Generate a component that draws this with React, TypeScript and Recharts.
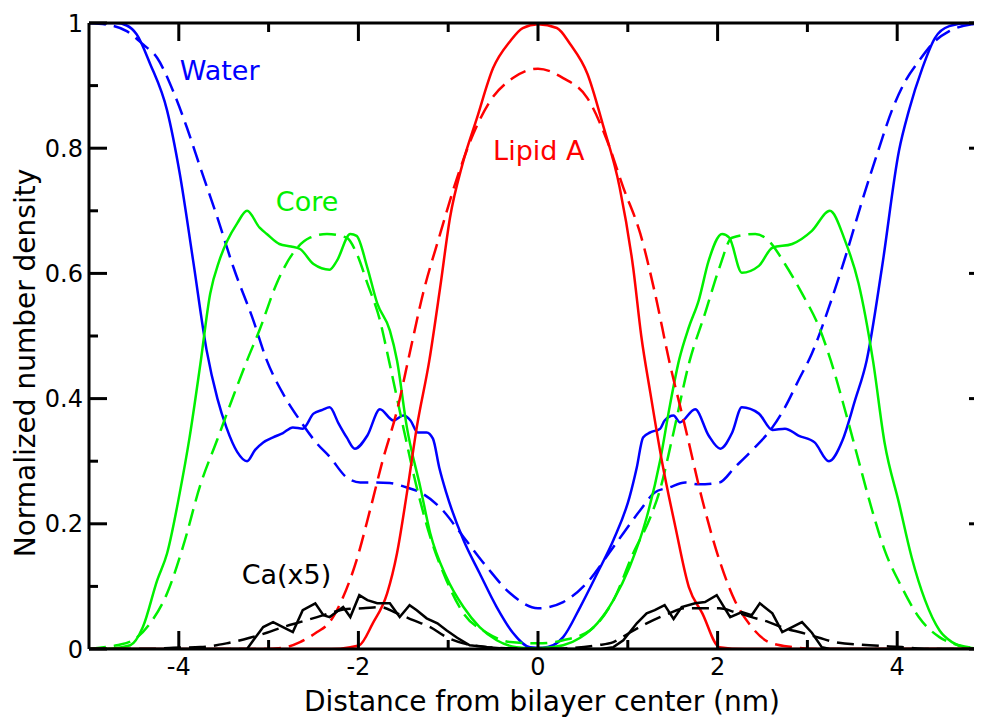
import { LineChart, Line, XAxis, YAxis, ReferenceDot } from "recharts";

// distance (nm) vs normalized number density
const waterSolid: [number, number][] = [
  [-5, 1.0], [-4.7, 1.0], [-4.58, 0.996], [-4.47, 0.982], [-4.32, 0.935], [-4.13, 0.86],
  [-3.99, 0.76], [-3.84, 0.62], [-3.69, 0.477], [-3.57, 0.4], [-3.47, 0.354], [-3.35, 0.315],
  [-3.24, 0.3], [-3.15, 0.318], [-3.06, 0.33], [-2.95, 0.338], [-2.84, 0.345], [-2.73, 0.354],
  [-2.62, 0.352], [-2.5, 0.376], [-2.4, 0.382], [-2.32, 0.386], [-2.22, 0.36], [-2.13, 0.338],
  [-2.04, 0.32], [-1.9, 0.341], [-1.76, 0.383], [-1.61, 0.365], [-1.5, 0.373], [-1.42, 0.365],
  [-1.34, 0.346], [-1.24, 0.346], [-1.17, 0.336], [-1.1, 0.29], [-1.02, 0.249], [-0.83, 0.174],
  [-0.65, 0.121], [-0.46, 0.067], [-0.28, 0.026], [-0.09, 0.003], [0.05, 0.002], [0.17, 0.006],
  [0.28, 0.019], [0.47, 0.067], [0.66, 0.121], [0.84, 0.174], [1.02, 0.243], [1.1, 0.29],
  [1.17, 0.338], [1.25, 0.346], [1.36, 0.352], [1.41, 0.365], [1.51, 0.373], [1.58, 0.362],
  [1.75, 0.383], [1.9, 0.341], [2.03, 0.32], [2.16, 0.345], [2.27, 0.386], [2.46, 0.376],
  [2.61, 0.35], [2.75, 0.352], [2.9, 0.341], [3.08, 0.33], [3.24, 0.3], [3.39, 0.333],
  [3.53, 0.397], [3.66, 0.461], [3.83, 0.609], [4.02, 0.796], [4.13, 0.86], [4.28, 0.928],
  [4.42, 0.976], [4.58, 0.995], [4.8, 1.0], [5, 1.0],
];

const waterDashed: [number, number][] = [
  [-5, 1.0], [-4.75, 0.996], [-4.58, 0.987], [-4.4, 0.966], [-4.24, 0.944], [-4.06, 0.89],
  [-3.91, 0.833], [-3.76, 0.769], [-3.57, 0.689], [-3.39, 0.609], [-3.17, 0.525], [-3.02, 0.461],
  [-2.84, 0.408], [-2.65, 0.365], [-2.46, 0.328], [-2.32, 0.307], [-2.13, 0.274], [-1.98, 0.266],
  [-1.84, 0.266], [-1.65, 0.265], [-1.46, 0.258], [-1.31, 0.25], [-1.09, 0.226], [-0.83, 0.179],
  [-0.57, 0.131], [-0.31, 0.089], [0, 0.065], [0.28, 0.075], [0.54, 0.105], [0.84, 0.163],
  [1.14, 0.222], [1.3, 0.25], [1.46, 0.258], [1.64, 0.266], [1.79, 0.263], [2.02, 0.266],
  [2.19, 0.29], [2.38, 0.317], [2.61, 0.354], [2.75, 0.386], [2.9, 0.429], [3.05, 0.472],
  [3.24, 0.546], [3.42, 0.625], [3.61, 0.716], [3.8, 0.801], [3.94, 0.86], [4.09, 0.907],
  [4.24, 0.939], [4.42, 0.971], [4.58, 0.987], [4.83, 0.998], [5, 1.0],
];

const coreSolid: [number, number][] = [
  [-5, 0], [-4.75, 0.001], [-4.54, 0.006], [-4.4, 0.035], [-4.24, 0.11], [-4.13, 0.153],
  [-3.99, 0.249], [-3.88, 0.338], [-3.76, 0.455], [-3.65, 0.568], [-3.55, 0.62], [-3.46, 0.652],
  [-3.35, 0.68], [-3.24, 0.7], [-3.1, 0.673], [-3.02, 0.663], [-2.88, 0.647], [-2.75, 0.643],
  [-2.65, 0.639], [-2.5, 0.615], [-2.32, 0.606], [-2.24, 0.62], [-2.09, 0.663], [-2.02, 0.66],
  [-1.9, 0.609], [-1.79, 0.552], [-1.65, 0.509], [-1.57, 0.461], [-1.46, 0.354], [-1.31, 0.258],
  [-1.2, 0.185], [-1.02, 0.115], [-0.83, 0.067], [-0.65, 0.035], [-0.46, 0.014], [-0.24, 0.003],
  [0, 0.001], [0.28, 0.006], [0.47, 0.018], [0.66, 0.041], [0.84, 0.078], [1.02, 0.131],
  [1.21, 0.21], [1.36, 0.301], [1.47, 0.39], [1.57, 0.461], [1.68, 0.514], [1.79, 0.557],
  [1.9, 0.62], [2.05, 0.663], [2.13, 0.657], [2.27, 0.601], [2.46, 0.612], [2.61, 0.641],
  [2.83, 0.647], [3.05, 0.668], [3.25, 0.7], [3.42, 0.652], [3.57, 0.584], [3.73, 0.461],
  [3.86, 0.329], [4.02, 0.233], [4.16, 0.147], [4.31, 0.078], [4.47, 0.03], [4.61, 0.011],
  [4.75, 0.003], [5, 0],
];

const coreDashed: [number, number][] = [
  [-5, 0], [-4.88, 0.002], [-4.69, 0.006], [-4.51, 0.014], [-4.32, 0.041], [-4.13, 0.089],
  [-3.95, 0.165], [-3.76, 0.262], [-3.57, 0.335], [-3.39, 0.405], [-3.24, 0.461], [-3.1, 0.51],
  [-2.91, 0.584], [-2.73, 0.632], [-2.54, 0.657], [-2.35, 0.663], [-2.13, 0.657], [-2.02, 0.632],
  [-1.9, 0.584], [-1.76, 0.525], [-1.66, 0.461], [-1.5, 0.354], [-1.35, 0.258], [-1.2, 0.179],
  [-1.02, 0.11], [-0.83, 0.057], [-0.57, 0.026], [-0.31, 0.011], [0, 0.009], [0.28, 0.014],
  [0.58, 0.03], [0.84, 0.078], [1.06, 0.153], [1.25, 0.21], [1.36, 0.255], [1.5, 0.34],
  [1.69, 0.461], [1.86, 0.536], [2.02, 0.609], [2.16, 0.657], [2.42, 0.663], [2.57, 0.652],
  [2.75, 0.615], [2.94, 0.568], [3.13, 0.514], [3.26, 0.461], [3.42, 0.381], [3.57, 0.301],
  [3.72, 0.222], [3.86, 0.158], [4.05, 0.099], [4.24, 0.051], [4.47, 0.019], [4.69, 0.006],
  [5, 0],
];

const lipidSolid: [number, number][] = [
  [-5, 0], [-2.3, 0], [-2.09, 0.003], [-1.99, 0.006], [-1.84, 0.041], [-1.68, 0.089],
  [-1.57, 0.153], [-1.46, 0.249], [-1.35, 0.354], [-1.21, 0.461], [-1.09, 0.577], [-0.98, 0.689],
  [-0.84, 0.775], [-0.68, 0.848], [-0.5, 0.928], [-0.31, 0.971], [-0.17, 0.992], [0, 0.998],
  [0.21, 0.992], [0.36, 0.966], [0.55, 0.919], [0.72, 0.839], [0.91, 0.737], [1.06, 0.609],
  [1.15, 0.5], [1.25, 0.41], [1.38, 0.3], [1.53, 0.195], [1.68, 0.099], [1.83, 0.057],
  [2.02, 0.003], [2.3, 0], [5, 0],
];

const lipidDashed: [number, number][] = [
  [-5, 0], [-3.1, 0], [-2.84, 0.002], [-2.65, 0.011], [-2.46, 0.027], [-2.32, 0.043],
  [-2.17, 0.083], [-2.02, 0.142], [-1.87, 0.222], [-1.73, 0.301], [-1.57, 0.381], [-1.44, 0.465],
  [-1.28, 0.568], [-1.09, 0.663], [-0.9, 0.753], [-0.72, 0.823], [-0.53, 0.876], [-0.28, 0.912],
  [0, 0.927], [0.28, 0.912], [0.55, 0.88], [0.77, 0.812], [0.95, 0.737], [1.14, 0.663],
  [1.3, 0.57], [1.46, 0.461], [1.64, 0.354], [1.83, 0.238], [2.02, 0.142], [2.19, 0.078],
  [2.38, 0.035], [2.57, 0.011], [2.83, 0.003], [3.1, 0], [5, 0],
];

const caSolid: [number, number][] = [
  [-5, 0], [-3.24, 0], [-3.17, 0.014], [-3.06, 0.035], [-2.95, 0.043], [-2.84, 0.035],
  [-2.73, 0.027], [-2.62, 0.062], [-2.48, 0.073], [-2.39, 0.054], [-2.32, 0.051], [-2.17, 0.067],
  [-2.09, 0.051], [-1.99, 0.086], [-1.9, 0.078], [-1.79, 0.073], [-1.65, 0.073], [-1.54, 0.051],
  [-1.43, 0.07], [-1.35, 0.062], [-1.24, 0.049], [-1.12, 0.041], [-1.02, 0.03], [-0.9, 0.018],
  [-0.76, 0.006], [-0.57, 0.003], [-0.3, 0], [0.7, 0], [0.84, 0.003], [0.95, 0.014],
  [1.1, 0.041], [1.21, 0.057], [1.3, 0.062], [1.41, 0.07], [1.51, 0.048], [1.6, 0.067],
  [1.75, 0.073], [1.86, 0.075], [1.99, 0.086], [2.14, 0.051], [2.27, 0.059], [2.38, 0.054],
  [2.47, 0.073], [2.61, 0.057], [2.72, 0.027], [2.83, 0.035], [2.94, 0.043], [3.05, 0.026],
  [3.16, 0.003], [3.25, 0], [5, 0],
];

const caDashed: [number, number][] = [
  [-5, 0], [-4.3, 0], [-4.06, 0.002], [-3.76, 0.003], [-3.47, 0.009], [-3.21, 0.018],
  [-3.02, 0.026], [-2.84, 0.035], [-2.65, 0.043], [-2.46, 0.051], [-2.3, 0.058], [-2.13, 0.064],
  [-1.95, 0.065], [-1.76, 0.067], [-1.57, 0.057], [-1.39, 0.046], [-1.2, 0.035], [-1.02, 0.019],
  [-0.83, 0.009], [-0.57, 0.003], [-0.3, 0.001], [0, 0], [0.3, 0.001], [0.66, 0.006],
  [0.84, 0.011], [1.02, 0.026], [1.21, 0.041], [1.46, 0.057], [1.64, 0.065], [1.83, 0.065],
  [2.02, 0.065], [2.19, 0.059], [2.38, 0.051], [2.57, 0.043], [2.75, 0.033], [2.94, 0.026],
  [3.13, 0.018], [3.31, 0.011], [3.69, 0.006], [4.05, 0.003], [4.38, 0], [5, 0],
];

const xTicks = [-4, -3, -2, -1, 0, 1, 2, 3, 4];
const yTicks = [0, 0.1, 0.2, 0.3, 0.4, 0.5, 0.6, 0.7, 0.8, 0.9, 1];

const noteText = ["Water", "Core", "Lipid A", "Ca(x5)"];
const noteX = [-3.99, -2.92, -0.5, -3.3];
const noteY = [0.909, 0.7, 0.781, 0.104];
const noteColor = ["#0000ff", "#00f000", "#ff0000", "#000000"];

const FONT = "'DejaVu Sans', sans-serif";
const BLUE = "#0000ff";
const GREEN = "#00f000";
const RED = "#ff0000";
const MAJOR = 18;
const MINOR = 9;

const toPts = (pairs: [number, number][]) => pairs.map(([x, y]) => ({ x, y }));

const isMajorX = (v: number) => Math.round(v) % 2 === 0;
const isMajorY = (v: number) => Math.round(v * 10) % 2 === 0;

const BottomTick = ({ x, y, payload }: any) => {
  const major = isMajorX(payload.value);
  return (
    <g>
      <line x1={x} y1={y} x2={x} y2={y - (major ? MAJOR : MINOR)} stroke="#000" strokeWidth={3} />
      {major && (
        <text x={x} y={y + 26} textAnchor="middle" fontSize={24} fontFamily={FONT} fill="#000">
          {String(payload.value)}
        </text>
      )}
    </g>
  );
};

const TopTick = ({ x, y, payload }: any) => (
  <line x1={x} y1={y} x2={x} y2={y + (isMajorX(payload.value) ? MAJOR : MINOR)} stroke="#000" strokeWidth={3} />
);

const LeftTick = ({ x, y, payload }: any) => {
  const major = isMajorY(payload.value);
  return (
    <g>
      <line x1={x} y1={y} x2={x + (major ? MAJOR : MINOR)} y2={y} stroke="#000" strokeWidth={3} />
      {major && (
        <text x={x - 6} y={y + 8.5} textAnchor="end" fontSize={24} fontFamily={FONT} fill="#000">
          {String(payload.value)}
        </text>
      )}
    </g>
  );
};

const RightTick = ({ x, y, payload }: any) => (
  <line x1={x} y1={y} x2={x - (isMajorY(payload.value) ? MAJOR : MINOR)} y2={y} stroke="#000" strokeWidth={3} />
);

const NoteLabel = ({ viewBox, text, color }: any) => (
  <text x={viewBox.x} y={viewBox.y} fontSize={27} fontFamily={FONT} fill={color}>
    {text}
  </text>
);

const XTitle = ({ viewBox }: any) => (
  <text x={viewBox.x + viewBox.width / 2 + 4} y={viewBox.y + 62} textAnchor="middle" fontSize={28} fontFamily={FONT} fill="#000">
    Distance from bilayer center (nm)
  </text>
);

const YTitle = ({ viewBox }: any) => {
  const cx = 27;
  const cy = viewBox.y + viewBox.height / 2 + 27;
  return (
    <text x={cx} y={cy} transform={`rotate(-90, ${cx}, ${cy})`} textAnchor="middle" fontSize={28} fontFamily={FONT} fill="#000">
      Normalized number density
    </text>
  );
};

const series = [
  { data: waterDashed, color: BLUE, dashed: true, type: "monotone" },
  { data: waterSolid, color: BLUE, dashed: false, type: "monotone" },
  { data: coreDashed, color: GREEN, dashed: true, type: "monotone" },
  { data: coreSolid, color: GREEN, dashed: false, type: "monotone" },
  { data: lipidDashed, color: RED, dashed: true, type: "monotone" },
  { data: lipidSolid, color: RED, dashed: false, type: "monotone" },
  { data: caDashed, color: "#000", dashed: true, type: "monotone" },
  { data: caSolid, color: "#000", dashed: false, type: "linear" },
];

export default function App() {
  return (
    <div style={{ width: 974, height: 709, overflow: "hidden" }}>
      <LineChart width={990} height={709} margin={{ top: 14, right: 10, left: 0, bottom: 0 }}>
        <XAxis
          xAxisId="b"
          dataKey="x"
          type="number"
          domain={[-5, 5]}
          allowDataOverflow
          ticks={xTicks}
          interval={0}
          height={68}
          tickSize={0}
          tickMargin={0}
          tickLine={false}
          axisLine={{ stroke: "#000", strokeWidth: 3 }}
          tick={<BottomTick />}
          label={<XTitle />}
        />
        <XAxis
          xAxisId="t"
          orientation="top"
          dataKey="x"
          type="number"
          domain={[-5, 5]}
          allowDataOverflow
          ticks={xTicks}
          interval={0}
          height={1}
          tickSize={0}
          tickMargin={0}
          tickLine={false}
          axisLine={{ stroke: "#000", strokeWidth: 3 }}
          tick={<TopTick />}
        />
        <YAxis
          yAxisId="l"
          type="number"
          domain={[0, 1]}
          allowDataOverflow
          ticks={yTicks}
          interval={0}
          width={81}
          tickSize={0}
          tickMargin={0}
          tickLine={false}
          axisLine={{ stroke: "#000", strokeWidth: 3 }}
          tick={<LeftTick />}
          label={<YTitle />}
        />
        <YAxis
          yAxisId="r"
          orientation="right"
          type="number"
          domain={[0, 1]}
          allowDataOverflow
          ticks={yTicks}
          interval={0}
          width={1}
          tickSize={0}
          tickMargin={0}
          tickLine={false}
          axisLine={{ stroke: "#000", strokeWidth: 3 }}
          tick={<RightTick />}
        />
        {series.map((s, i) => (
          <Line
            key={i}
            xAxisId="b"
            yAxisId="l"
            data={toPts(s.data)}
            dataKey="y"
            type={s.type as any}
            stroke={s.color}
            strokeWidth={2.5}
            strokeDasharray={s.dashed ? "17 8" : undefined}
            dot={false}
            activeDot={false}
            isAnimationActive={false}
          />
        ))}
        {noteText.map((t, i) => (
          <ReferenceDot
            key={t}
            xAxisId="b"
            yAxisId="l"
            x={noteX[i]}
            y={noteY[i]}
            r={0}
            fill="none"
            stroke="none"
            label={<NoteLabel text={t} color={noteColor[i]} />}
          />
        ))}
      </LineChart>
    </div>
  );
}
